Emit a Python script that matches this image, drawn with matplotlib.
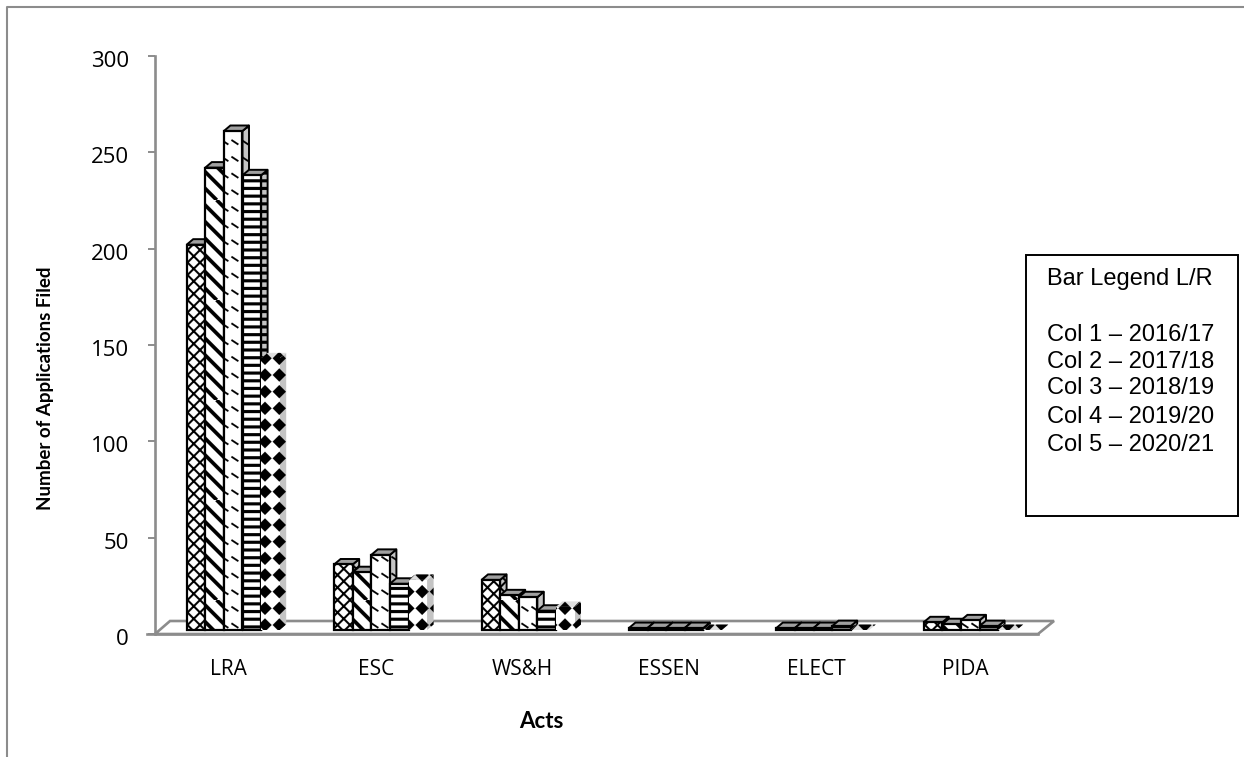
import numpy as np
import matplotlib
matplotlib.use("Agg")
import matplotlib.pyplot as plt
import matplotlib.hatch as mhatch
from matplotlib.path import Path
from matplotlib.patches import Polygon, Rectangle
from matplotlib.transforms import ScaledTranslation

categories = ["LRA", "ESC", "WS&H", "ESSEN", "ELECT", "PIDA"]
years = ["2016/17", "2017/18", "2018/19", "2019/20", "2020/21"]
col_2016 = [200, 34, 26, 1, 1, 4]
col_2017 = [240, 30, 18, 1, 1, 3]
col_2018 = [259, 39, 17, 1, 1, 5]
col_2019 = [236, 24, 10, 1, 2, 2]
col_2020 = [141, 26, 12, 0, 0, 0]
y_ticks = [0, 50, 100, 150, 200, 250, 300]

W, H = 1244, 757
GREY = "#8c8c8c"
LABEL_FONT = ["Open Sans", "DejaVu Sans"]
TITLE_FONT = ["Lato", "DejaVu Sans"]


def band(x0, y0, x1, y1, t):
    """Quadrilateral of thickness t around a segment, in tile units."""
    d = np.array([x1 - x0, y1 - y0], float)
    n = np.array([-d[1], d[0]]) / np.hypot(*d) * t / 2
    a, b = np.array([x0, y0]), np.array([x1, y1])
    return [a + n, b + n, b - n, a - n]


def tile_polygons(kind):
    """Polygons of one repeating hatch tile on the unit square."""
    polys = []
    if kind == "C":  # diagonal lattice
        p = 1 / 8
        for i in range(-8, 9):
            polys.append(band(i * p, 0, i * p + 1, 1, 0.019))
            polys.append(band(i * p, 1, i * p + 1, 0, 0.019))
    elif kind == "S":  # heavy falling diagonals
        p = 1 / 6
        for i in range(-6, 7):
            polys.append(band(i * p, 1, i * p + 1, 0, 0.036))
    elif kind == "D":  # short broken diagonals
        for i in range(6):
            for j in range(10):
                x, y = (j + 0.15) / 10, (i + 0.6) / 6
                polys.append(band(x, y, x + 0.068, y - 0.045, 0.017))
    elif kind == "H":  # heavy horizontal rules
        for i in range(13):
            y = (i + 0.5) / 13
            polys.append(band(0, y, 1, y, 0.03))
    elif kind == "G":  # solid diamonds
        for i in range(6):
            for j in range(7):
                cx, cy = (j + 0.55) / 7, (i + 0.5) / 6
                rx, ry = 0.066, 0.066
                polys.append(np.array([[cx - rx, cy], [cx, cy + ry], [cx + rx, cy], [cx, cy - ry]]))
    return polys


class TileHatch(mhatch.HatchPatternBase):
    """Hatch made of filled polygons, selected by a single letter."""

    def __init__(self, hatch, density):
        self.polys = [q for k in "CSDHG" if k in hatch for q in tile_polygons(k)]
        self.num_vertices = len(self.polys) * 5

    def set_vertices_and_codes(self, vertices, codes):
        i = 0
        for poly in self.polys:
            vertices[i:i + 4] = poly
            vertices[i + 4] = poly[0]
            codes[i] = Path.MOVETO
            codes[i + 1:i + 4] = Path.LINETO
            codes[i + 4] = Path.CLOSEPOLY
            i += 5


mhatch._hatch_types.append(TileHatch)
matplotlib.rcParams["hatch.linewidth"] = 0.1
matplotlib.rcParams["font.family"] = ["Liberation Sans", "DejaVu Sans"]

fig = plt.figure(figsize=(W / 100, H / 100), dpi=100)
fig.patch.set_facecolor("white")

# outer chart frame: left and top edges run off the canvas
fig.add_artist(plt.Line2D([6.5 / W, 6.5 / W, 1], [0, 1 - 6.5 / H, 1 - 6.5 / H], color=GREY, lw=1.5))

# plotting area: y axis at x=155, zero line at y=634, 300 at y=56
left, right, top, bottom = 155, 1039.4, 56, 634
ax = fig.add_axes([left / W, 1 - bottom / H, (right - left) / W, (bottom - top) / H])
ax.set_xlim(0, len(categories))
ax.set_ylim(0, 300)
ax.patch.set_alpha(0)

px_x = len(categories) / (right - left)
px_y = 300 / (bottom - top)
series = [col_2016, col_2017, col_2018, col_2019, col_2020]
hatches = ["C", "S", "D", "H", "G"]
bar_w = 18.6 * px_x
dx, dy = 6.5 * px_x, 5.5 * px_y
base = 4 * px_y
origin = (186.7 - left) * px_x

# floor of the 3D plot
floor = Polygon([(0, 0), (15 * px_x, 13 * px_y), (899 * px_x, 13 * px_y), (883 * px_x, 0)],
                closed=True, fc="white", ec=GREY, lw=1.9, zorder=1, clip_on=False)
ax.add_patch(floor)

x_idx = np.arange(len(categories))
for s, (vals, h) in enumerate(zip(series, hatches)):
    xs = x_idx + origin + s * bar_w
    faded = s == 4
    for x, v in zip(xs, vals):
        z = 3 + s
        t = v + base
        side = Polygon([(x + bar_w, base), (x + bar_w + dx, base + dy), (x + bar_w + dx, t + dy), (x + bar_w, t)],
                       closed=True, fc="#c4c4c4", ec="black", lw=0 if faded else 1.4,
                       hatch=h, zorder=z, joinstyle="round")
        cap = Polygon([(x, t), (x + dx, t + dy), (x + bar_w + dx, t + dy), (x + bar_w, t)],
                      closed=True, fc="#a0a0a0" if not faded else "#dedede",
                      ec="black", lw=1.4 if not faded else 0,
                      hatch="G" if faded else None, zorder=z)
        ax.add_patch(side)
        ax.add_patch(cap)
    ax.bar(xs, vals, width=bar_w, bottom=base, align="edge", color="white", edgecolor="black",
           linewidth=0 if faded else 1.6, hatch=h, zorder=3.5 + s, label=years[s])

for sp in ["top", "right", "bottom"]:
    ax.spines[sp].set_visible(False)
ax.spines["left"].set_color(GREY)
ax.spines["left"].set_linewidth(1.9)
ax.set_yticks(y_ticks)
ax.set_yticklabels([str(t) for t in y_ticks], family=LABEL_FONT, fontsize=16)
ax.tick_params(axis="y", color=GREY, width=1.4, length=5, pad=13.7)
nudge = ScaledTranslation(0, -3 / 100, fig.dpi_scale_trans)
for lab in ax.get_yticklabels():
    lab.set_transform(lab.get_transform() + nudge)
ax.set_xticks(x_idx + np.array([0.495, 0.5, 0.49, 0.49, 0.49, 0.495]))
ax.set_xticklabels(categories, family=LABEL_FONT, fontsize=15)
ax.tick_params(axis="x", length=0, pad=18)
ax.plot([-8 * px_x, 883 * px_x], [0, 0], color=GREY, lw=1.9, clip_on=False, zorder=2)

fig.text(46 / W, 1 - 388 / H, "Number of Applications Filed", rotation=90, ha="center", va="center",
         family=TITLE_FONT, fontweight="bold", fontsize=13.5)
fig.text(541 / W, 1 - 721 / H, "Acts", ha="center", va="center",
         family=TITLE_FONT, fontweight="bold", fontsize=16)

# legend box
fig.add_artist(Rectangle((1026 / W, 1 - 516 / H), 212 / W, 261 / H, transform=fig.transFigure,
                         fc="white", ec="black", lw=1.4))
lines = ["Bar Legend L/R"] + [f"Col {i + 1} – {y}" for i, y in enumerate(years)]
rows = [279, 335, 362, 388, 417, 445]
for txt, yy in zip(lines, rows):
    fig.text(1047 / W, 1 - yy / H, txt, ha="left", va="center", fontsize=17)

fig.savefig("out.png", dpi=100)
